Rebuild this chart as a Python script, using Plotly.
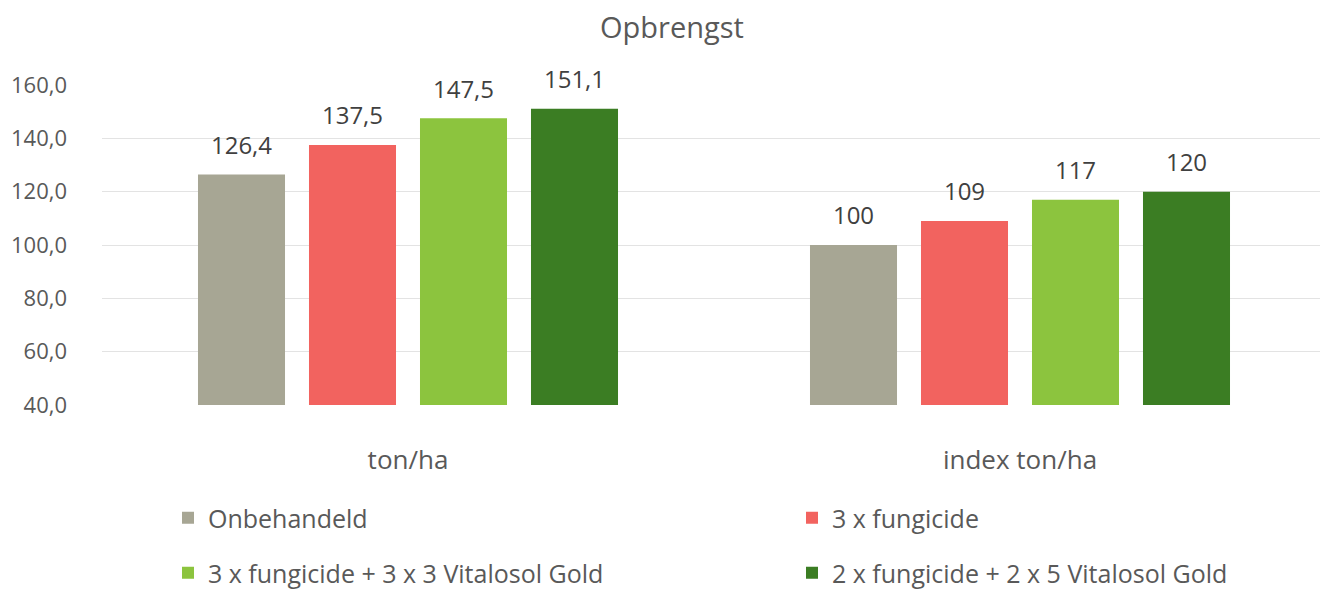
import plotly.graph_objects as go

categories = ["ton/ha", "index ton/ha"]
series_names = [
    "Onbehandeld",
    "3 x fungicide",
    "3 x fungicide + 3 x 3 Vitalosol Gold",
    "2 x fungicide + 2 x 5 Vitalosol Gold",
]
values = [
    [126.4, 100],
    [137.5, 109],
    [147.5, 117],
    [151.1, 120],
]
colors = ["#a7a694", "#f2635f", "#8cc43e", "#3b7d23"]
legend_ids = ["legend", "legend2", "legend3", "legend4"]
y_ticks = [40, 60, 80, 100, 120, 140, 160]


def fmt(v, cat):
    if cat == "ton/ha":
        return f"{v:.1f}".replace(".", ",")
    return f"{v:.0f}"


FONT = "Open Sans"
TXT = "#595959"
GAP = 0.2745
W, H = 1320, 582  # page body margin of 8px is accounted for

fig = go.Figure()
for i, (name, vals, col, lg) in enumerate(zip(series_names, values, colors, legend_ids)):
    fig.add_trace(go.Bar(
        name=name, x=categories, y=vals, marker_color=col, marker_line_width=0,
        offsetgroup=f"g{i}", legend=lg,
    ))
for i, vals in enumerate(values):
    labels = [fmt(v, c) for v, c in zip(vals, categories)]
    fig.add_trace(go.Scatter(
        x=categories, y=vals, mode="markers+text", text=labels,
        textposition="top center", offsetgroup=f"g{i}",
        marker=dict(size=22, opacity=0, color="white"),
        textfont=dict(family=FONT, size=24, color="#404040"),
        showlegend=False, hoverinfo="skip", cliponaxis=False,
    ))

legend_pos = [(160, 510), (784, 510), (160, 565), (784, 565)]
legends = {}
for lg, (lx, ly) in zip(legend_ids, legend_pos):
    legends[lg] = dict(orientation="h", xref="container", yref="container",
                       x=lx / W, xanchor="left", y=1 - ly / H, yanchor="middle",
                       font=dict(family=FONT, size=25, color=TXT),
                       bgcolor="rgba(0,0,0,0)")

fig.update_layout(
    width=W, height=H,
    margin=dict(l=94, r=2, t=77, b=185, autoexpand=False),
    paper_bgcolor="white", plot_bgcolor="white",
    separators=",.",
    barmode="group", bargap=GAP, bargroupgap=0.216,
    scattermode="group", scattergap=GAP,
    font=dict(family=FONT, color=TXT),
    title=dict(text="Opbrengst", x=(672 - 8) / W, xanchor="center", xref="container",
               y=1 - 20 / H, yanchor="middle", yref="container",
               font=dict(family=FONT, size=29, color=TXT)),
    xaxis=dict(showgrid=False, showline=False, ticks="", ticklabelstandoff=37,
               tickfont=dict(family=FONT, size=26, color=TXT)),
    yaxis=dict(range=[40, 160], tickvals=y_ticks, tickformat=".1f",
               showgrid=True, gridcolor="#e3e3e3", gridwidth=1.3,
               zeroline=False, showline=False, ticks="", ticklabelstandoff=34,
               tickfont=dict(family=FONT, size=22, color=TXT)),
    showlegend=True,
    **legends,
)

fig.write_html("out.html")
